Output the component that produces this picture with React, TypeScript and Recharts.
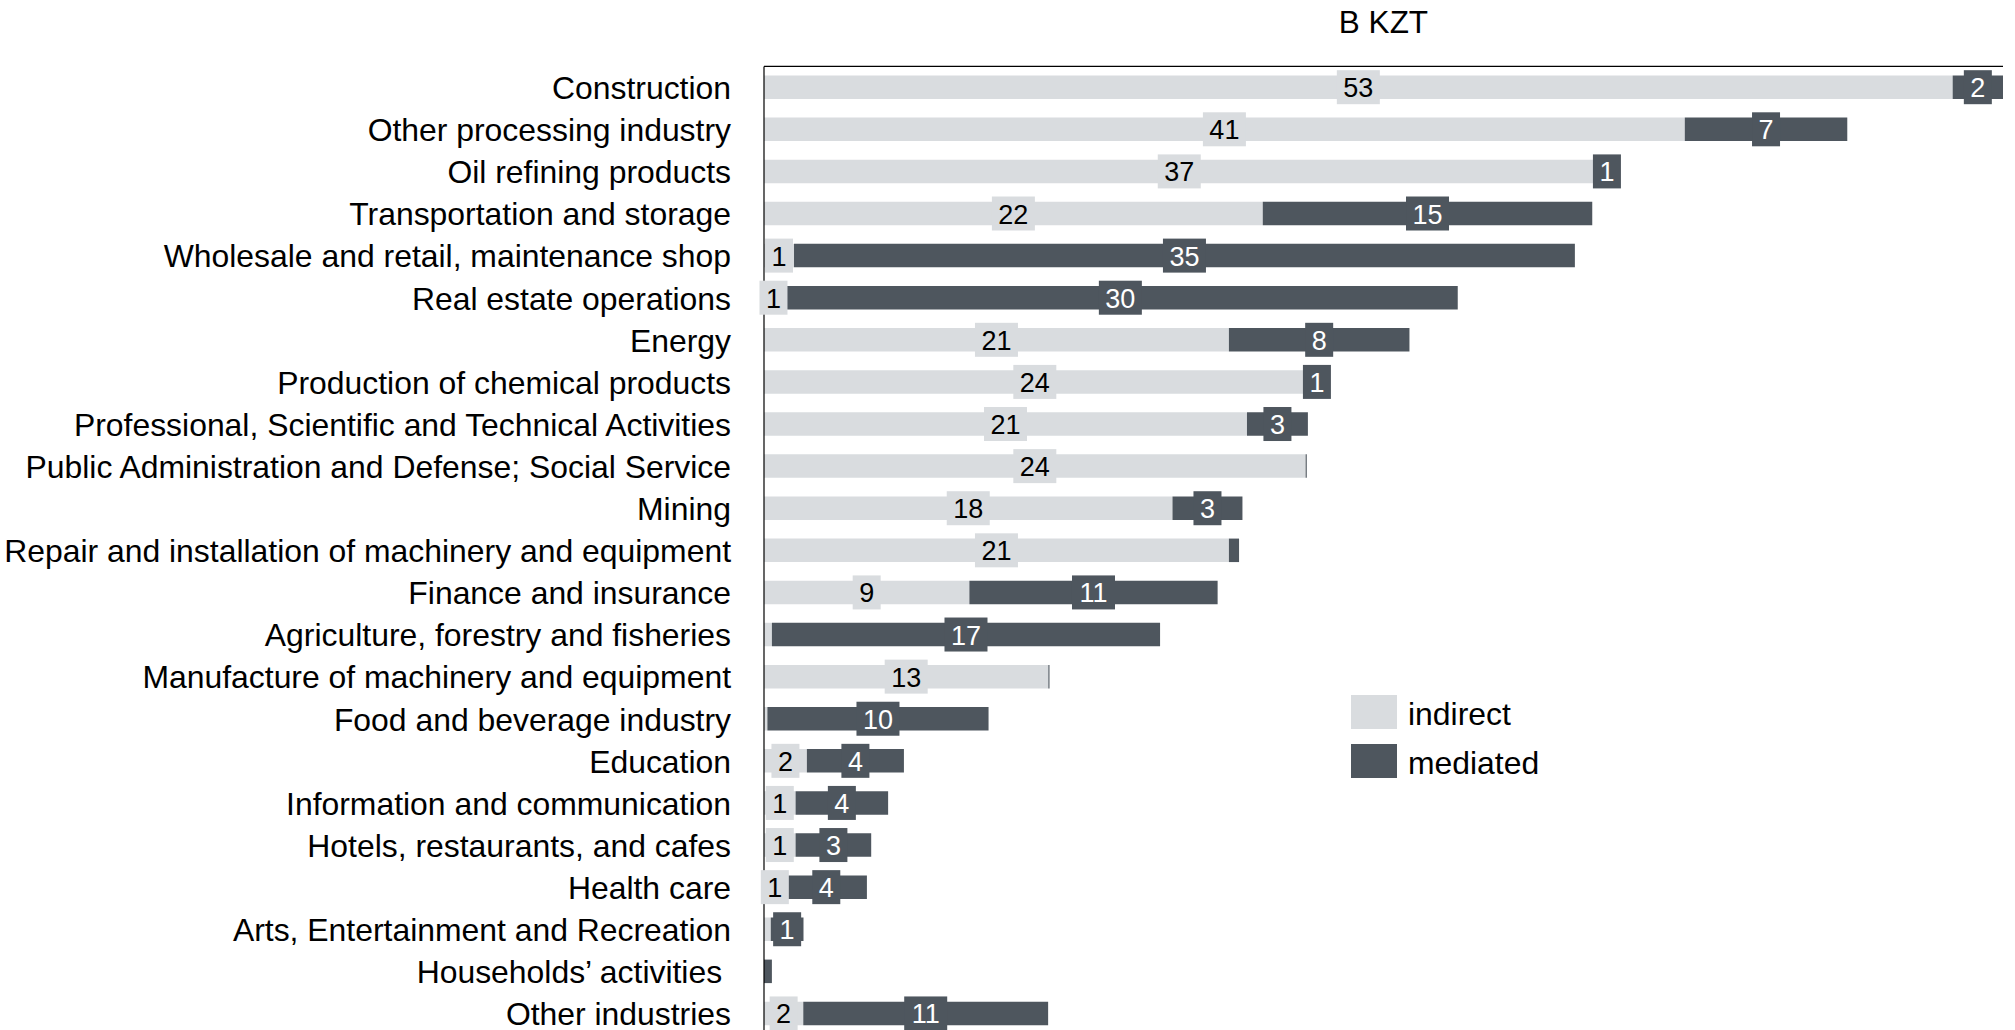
import React from "react";
import { Bar, BarChart, LabelList, Legend, XAxis, YAxis } from "recharts";

const categories = [
  "Construction",
  "Other processing industry",
  "Oil refining products",
  "Transportation and storage",
  "Wholesale and retail, maintenance shop",
  "Real estate operations",
  "Energy",
  "Production of chemical products",
  "Professional, Scientific and Technical Activities",
  "Public Administration and Defense; Social Service",
  "Mining",
  "Repair and installation of machinery and equipment",
  "Finance and insurance",
  "Agriculture, forestry and fisheries",
  "Manufacture of machinery and equipment",
  "Food and beverage industry",
  "Education",
  "Information and communication",
  "Hotels, restaurants, and cafes",
  "Health care",
  "Arts, Entertainment and Recreation",
  "Households’ activities ",
  "Other industries",
];

// B KZT
const indirect = [
  52.67, 40.8, 36.8, 22.1, 1.33, 0.84, 20.6, 24.0, 21.4, 24.0, 18.1, 20.6,
  9.1, 0.35, 12.6, 0.15, 1.9, 1.4, 1.4, 0.96, 0.3, 0, 1.74,
];
const mediated = [
  2.23, 7.2, 1.1, 14.6, 34.6, 29.9, 8.0, 1.0, 2.7, 0.05, 3.1, 0.45, 11.0,
  17.2, 0.05, 9.8, 4.3, 4.1, 3.35, 3.6, 1.45, 0.35, 10.85,
];

const LIGHT = "#D9DCDF";
const DARK = "#4E565E";
const FONT = '"Liberation Sans", Arial, Helvetica, sans-serif';

const data = categories.map((name, i) => ({
  name,
  indirect: indirect[i],
  mediated: mediated[i],
}));
const maxTotal = Math.max(...data.map((d) => d.indirect + d.mediated));

// data label drawn on a filled box, like the spreadsheet original
function boxLabel(fill: string, color: string) {
  return (props: any) => {
    const vb = props.viewBox ?? props;
    const v = Math.round(Number(props.value));
    if (!v) return null;
    const text = String(v);
    const cx = vb.x + vb.width / 2;
    const cy = vb.y + vb.height / 2;
    const w = text.length * 15 + 13;
    return (
      <g>
        <rect x={cx - w / 2} y={cy - 17} width={w} height={34} fill={fill} />
        <text
          x={cx}
          y={cy + 10}
          textAnchor="middle"
          fill={color}
          fontSize={27}
          fontFamily={FONT}
        >
          {text}
        </text>
      </g>
    );
  };
}

const CategoryTick = ({ x, y, payload }: any) => (
  <text
    x={x}
    y={y + 11.5}
    textAnchor="end"
    fill="#000"
    fontSize={31.9}
    fontFamily={FONT}
    style={{ whiteSpace: "pre" }}
  >
    {payload.value}
  </text>
);

const renderTitle = (props: any) => {
  const vb = props.viewBox;
  return (
    <text
      x={vb.x + vb.width / 2}
      y={33}
      textAnchor="middle"
      fill="#000"
      fontSize={31.5}
      fontFamily={FONT}
    >
      B KZT
    </text>
  );
};

const renderLegend = (props: any) => (
  <div>
    {(props.payload || []).map((item: any) => (
      <div
        key={item.value}
        style={{ display: "flex", alignItems: "center", height: 34, marginBottom: 15 }}
      >
        <div style={{ width: 46, height: 34, background: item.color }} />
        <span
          style={{
            marginLeft: 11,
            fontSize: 31.9,
            fontFamily: FONT,
            lineHeight: "34px",
            color: "#000",
            position: "relative",
            top: 2,
          }}
        >
          {item.value}
        </span>
      </div>
    ))}
  </div>
);

export default function App() {
  return (
    <div
      style={{
        position: "absolute",
        left: 0,
        top: 0,
        width: 2015,
        height: 1030,
        overflow: "hidden",
        background: "#fff",
      }}
    >
      <BarChart
        width={2015}
        height={1040}
        data={data}
        layout="vertical"
        margin={{ top: 36.45, right: 12, bottom: 5.2, left: 0 }}
        barSize={23.5}
      >
        <XAxis
          type="number"
          orientation="top"
          domain={[0, maxTotal]}
          height={30}
          tick={false}
          tickLine={false}
          axisLine={{ stroke: "#000", strokeWidth: 1.2 }}
          label={renderTitle}
        />
        <YAxis
          type="category"
          dataKey="name"
          width={764}
          interval={0}
          tickLine={false}
          tickSize={6}
          tickMargin={27}
          axisLine={{ stroke: "#000", strokeWidth: 1.2 }}
          tick={<CategoryTick />}
        />
        <Legend
          layout="vertical"
          align="center"
          verticalAlign="middle"
          content={renderLegend}
          wrapperStyle={{ left: 1351, top: 695, width: 300, height: "auto" }}
        />
        <Bar
          dataKey="indirect"
          name="indirect"
          stackId="a"
          fill={LIGHT}
          isAnimationActive={false}
        >
          <LabelList dataKey="indirect" content={boxLabel(LIGHT, "#000")} />
        </Bar>
        <Bar
          dataKey="mediated"
          name="mediated"
          stackId="a"
          fill={DARK}
          isAnimationActive={false}
        >
          <LabelList dataKey="mediated" content={boxLabel(DARK, "#fff")} />
        </Bar>
      </BarChart>
    </div>
  );
}
